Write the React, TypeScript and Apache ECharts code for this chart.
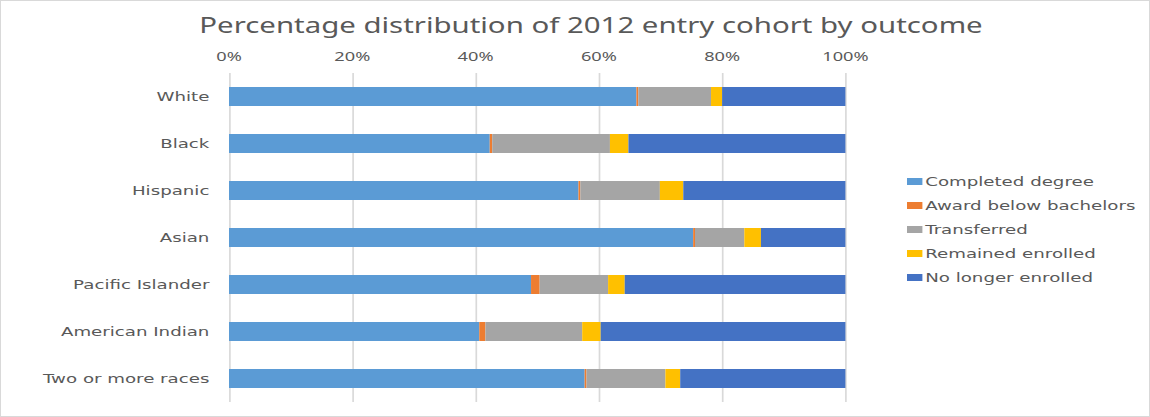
import React, { useEffect, useRef } from "react";
import * as echarts from "echarts";

const categories = ["White", "Black", "Hispanic", "Asian", "Pacific Islander", "American Indian", "Two or more races"];
const seriesNames = ["Completed degree", "Award below bachelors", "Transferred", "Remained enrolled", "No longer enrolled"];
const completed = [66.1, 42.3, 56.7, 75.3, 49.0, 40.6, 57.7];
const awardBelow = [0.3, 0.4, 0.3, 0.3, 1.4, 1.0, 0.3];
const transferred = [11.8, 19.1, 12.9, 8.0, 11.1, 15.7, 12.8];
const remained = [1.8, 3.0, 3.8, 2.7, 2.7, 3.0, 2.4];
const noLonger = [20.0, 35.2, 26.3, 13.7, 35.8, 39.7, 26.8];
const colors = ["#5b9bd5", "#ed7d31", "#a5a5a5", "#ffc000", "#4472c4"];
const tickValues = [0, 20, 40, 60, 80, 100];

// The reference picture is horizontally stretched; draw narrower and stretch.
const SX = 1.4;
const W = 1150 / SX;

export default function App() {
  const ref = useRef<HTMLDivElement>(null);
  useEffect(() => {
    if (!ref.current) return;
    const chart = echarts.init(ref.current, null, { renderer: "svg" });
    const data = [completed, awardBelow, transferred, remained, noLonger];
    chart.setOption({
      animation: false,
      backgroundColor: "#ffffff",
      title: {
        text: "Percentage distribution of 2012 entry cohort by outcome",
        left: 583 / SX,
        textAlign: "center",
        top: 8,
        textStyle: { fontFamily: "Noto Sans", fontSize: 21, fontWeight: "normal", color: "#595959" },
      },
      legend: {
        orient: "vertical",
        left: 906 / SX,
        top: 174,
        padding: 0,
        itemWidth: 11,
        itemHeight: 7,
        itemGap: 11,
        icon: "rect",
        data: seriesNames,
        textStyle: { fontFamily: "DejaVu Sans", fontSize: 13, color: "#595959", padding: [0, 0, 0, -3] },
      },
      grid: { left: 228 / SX, right: W - 845 / SX, top: 72, bottom: 14, containLabel: false },
      xAxis: {
        type: "value",
        position: "top",
        min: 0,
        max: 100,
        interval: 20,
        axisLine: { show: false },
        axisTick: { show: false },
        splitLine: { lineStyle: { color: "#d9d9d9", width: 1.2 } },
        axisLabel: {
          formatter: (v: number) => (tickValues.includes(v) ? v + "%" : ""),
          fontFamily: "Noto Sans",
          fontSize: 13,
          color: "#595959",
          margin: 10,
        },
      },
      yAxis: {
        type: "category",
        inverse: true,
        data: categories,
        axisLine: { show: false },
        axisTick: { show: false },
        axisLabel: { fontFamily: "DejaVu Sans", fontSize: 13, color: "#595959", margin: 14 },
      },
      series: seriesNames.map((name, i) => ({
        name,
        type: "bar",
        stack: "total",
        barWidth: 19,
        data: data[i],
        itemStyle: { color: colors[i] },
      })),
    });
    return () => chart.dispose();
  }, []);
  return (
    <div
      style={{ position: "fixed", left: 0, top: 0, width: 1150, height: 417, boxSizing: "border-box", border: "1px solid #d9d9d9", overflow: "hidden", background: "#fff" }}
    >
      <div
        ref={ref}
        style={{ position: "absolute", left: 0, top: 0, width: W, height: 415, transform: `scaleX(${SX})`, transformOrigin: "0 0" }}
      />
    </div>
  );
}
